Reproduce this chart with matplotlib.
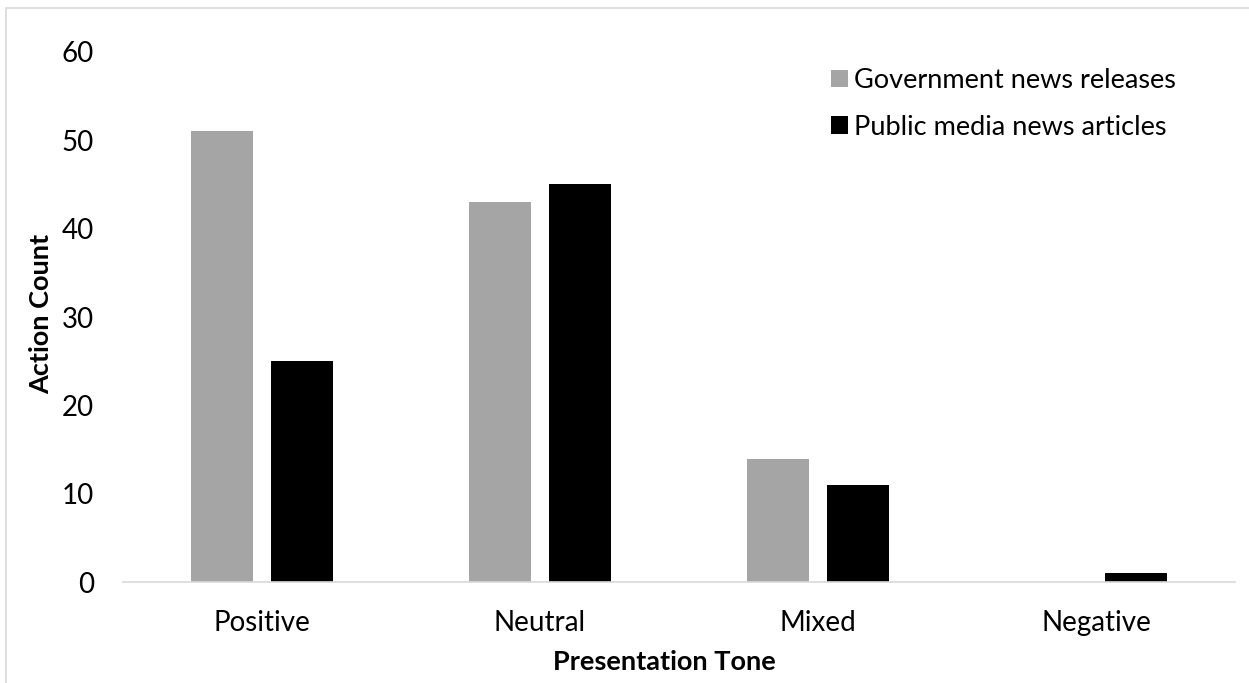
import numpy as np
import matplotlib
matplotlib.use("Agg")
import matplotlib.pyplot as plt
from matplotlib.patches import Rectangle

plt.rcParams['font.family'] = ['Lato', 'DejaVu Sans']

# Counts of actions by presentation tone
tones = ['Positive', 'Neutral', 'Mixed', 'Negative']
gov_releases = [51, 43, 14, 0]
media_articles = [25, 45, 11, 1]
series_names = ['Government news releases', 'Public media news articles']
y_ticks = [0, 10, 20, 30, 40, 50, 60]

fig = plt.figure(figsize=(12.49, 6.83), dpi=100)
ax = fig.add_axes([0.0985, 0.1474, 0.8903, 0.7769])

x = np.arange(len(tones))
w = 0.224
ax.bar(x - 0.143, gov_releases, w, color='#a5a5a5', label=series_names[0])
ax.bar(x + 0.143, media_articles, w, color='#000000', label=series_names[1])

ax.set_xlim(-0.5, 3.5)
ax.set_ylim(0, 60)
ax.set_yticks(y_ticks)
ax.set_xticks(x)
ax.set_xticklabels(tones)
ax.tick_params(axis='both', length=0, labelsize=20, colors='black')
ax.tick_params(axis='y', pad=21)
ax.tick_params(axis='x', pad=20)

for side in ['top', 'right', 'left']:
    ax.spines[side].set_visible(False)
ax.spines['bottom'].set_color('#d9d9d9')
ax.spines['bottom'].set_linewidth(1.2)

ax.set_xlabel('Presentation Tone', fontsize=19.5, fontweight='bold')
ax.xaxis.set_label_coords(0.4865, -0.127)
ax.set_ylabel('Action Count', fontsize=19.5, fontweight='bold')
ax.yaxis.set_label_coords(-0.063, 0.505)

ax.legend(loc='upper right', bbox_to_anchor=(0.957, 0.99), frameon=False,
          fontsize=19.5, handlelength=0.62, handleheight=0.62, handletextpad=0.25,
          labelspacing=0.8, borderaxespad=0)

# light frame around the chart area
fig.patches.append(Rectangle((6 / 1249, -0.1), 1.2, 1 - 8 / 683 + 0.1,
                             transform=fig.transFigure, fill=False,
                             edgecolor='#d9d9d9', linewidth=1.2))

fig.savefig('out.png', dpi=100)
